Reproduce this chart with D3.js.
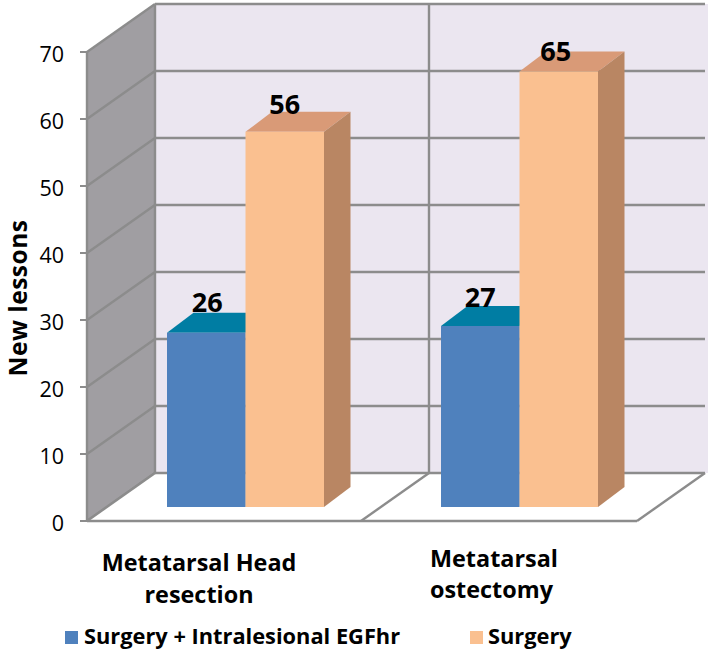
<!DOCTYPE html>
<html><head><meta charset="utf-8">
<script src="https://cdn.jsdelivr.net/npm/d3@7"></script>
<style>html,body{margin:0;padding:0;background:#fff}svg{display:block}text{font-family:"Open Sans","Noto Sans",sans-serif;fill:#000}</style>
</head><body><svg id="c" width="708" height="652"></svg>
<script>
const categories = ["Metatarsal Head resection", "Metatarsal ostectomy"];
const seriesNames = ["Surgery + Intralesional EGFhr", "Surgery"];
const combinedValues = [26, 27];
const surgeryValues = [56, 65];
const yTicks = [0, 10, 20, 30, 40, 50, 60, 70];
const yTitle = "New lessons";

const svg = d3.select("#c");
const W = {dx: 68, dy: -48};              // wall depth offset
const y = d3.scaleLinear().domain([0, 70]).range([521, 52]);
const x = d3.scaleBand().domain(categories).range([87, 635]);
const poly = (pts, fill) => svg.append("polygon").attr("points", pts.map(p => p.join(",")).join(" ")).attr("fill", fill);
const line = (a, b, w = 2.4) => svg.append("line").attr("x1", a[0]).attr("y1", a[1]).attr("x2", b[0]).attr("y2", b[1]).attr("stroke", "#8c8c8c").attr("stroke-width", w);

const x0 = x.range()[0], x1 = x.range()[1] + 2;
// back wall + side wall
poly([[x0 + W.dx, y(70) + W.dy], [708, y(70) + W.dy], [708, y(0) + W.dy], [x0 + W.dx, y(0) + W.dy]], "#ebe6f0");
poly([[x0, y(70)], [x0 + W.dx, y(70) + W.dy], [x0 + W.dx, y(0) + W.dy], [x0, y(0)]], "#a09ea2");
// grid
yTicks.forEach(t => {
  line([x0 - 7, y(t)], [x0, y(t)], 2);
  if (t > 0) line([x0 + W.dx, y(t) + W.dy], [x1 + W.dx, y(t) + W.dy]);
  line([x0, y(t)], [x0 + W.dx, y(t) + W.dy]);
});
line([x0, y(0)], [x0, y(70)]);
line([x0 + W.dx, y(70) + W.dy], [x0 + W.dx, y(0) + W.dy]);
line([x0 + W.dx + x.step(), y(70) + W.dy], [x0 + W.dx + x.step(), y(0) + W.dy]);
// floor
poly([[x0, y(0)], [x1, y(0)], [x1 + W.dx, y(0) + W.dy], [x0 + W.dx, y(0) + W.dy]], "#fff");
line([x0, y(0)], [x1, y(0)]);
line([x1, y(0)], [x1 + W.dx, y(0) + W.dy]);
line([x0 + W.dx, y(0) + W.dy], [x1 + W.dx, y(0) + W.dy]);
line([x0 + x.step(), y(0)], [x0 + W.dx + x.step(), y(0) + W.dy]);
line([x0, y(0)], [x0 + W.dx, y(0) + W.dy]);

// y tick labels
svg.append("g").selectAll("text").data(yTicks).join("text")
  .attr("x", 64).attr("y", d => y(d) + 2.5).attr("dy", "0.36em").attr("text-anchor", "end")
  .attr("font-size", 21.5).attr("fill", "#222").text(d => d);

// bars
const barW = 78.5, barInset = 80, baseLift = 14, D = {dx: 26.5, dy: -20};
const series = [
  {values: combinedValues, i: 0, front: "#4f81bd", top: "#007da3", side: "#3f6797"},
  {values: surgeryValues, i: 1, front: "#fac090", top: "#d99a77", side: "#b98663"}
];
const labelNudge = [[[1, -21], [0, -19]], [[0, -18], [-3, -11]]];
series.forEach(s => {
  s.values.forEach((v, k) => {
    const bx = x(categories[k]) + barInset + s.i * barW;
    const top = y(v) - baseLift, base = y(0) - baseLift;
    poly([[bx, top], [bx + D.dx, top + D.dy], [bx + barW + D.dx, top + D.dy], [bx + barW, top]], s.top);
    poly([[bx + barW, top], [bx + barW + D.dx, top + D.dy], [bx + barW + D.dx, base + D.dy], [bx + barW, base]], s.side);
    poly([[bx, top], [bx + barW, top], [bx + barW, base], [bx, base]], s.front);
  });
});
series.forEach(s => s.values.forEach((v, k) => {
  const bx = x(categories[k]) + barInset + s.i * barW;
  svg.append("text").attr("x", bx + barW / 2 + labelNudge[s.i][k][0]).attr("y", y(v) - baseLift + labelNudge[s.i][k][1])
    .attr("text-anchor", "middle").attr("font-size", 27).attr("font-weight", 700).text(v);
}));

// category labels
const catLabel = (lines, xx, anchor, ys) => lines.forEach((l, i) =>
  svg.append("text").attr("x", xx).attr("y", ys[i]).attr("text-anchor", anchor)
    .attr("font-size", 23.4).attr("font-weight", 700).text(l));
catLabel(["Metatarsal Head", "resection"], 199, "middle", [571, 603]);
catLabel(["Metatarsal", "ostectomy"], 430, "start", [567, 598]);

// y title
svg.append("text").attr("transform", "translate(26.5,298) rotate(-90)").attr("text-anchor", "middle")
  .attr("font-size", 24.5).attr("letter-spacing", 0.5).attr("font-weight", 700).text(yTitle);

// legend
const legX = [65, 470];
seriesNames.forEach((n, i) => {
  svg.append("rect").attr("x", legX[i]).attr("y", 631).attr("width", 13).attr("height", 13).attr("fill", series[i].front);
  svg.append("text").attr("x", legX[i] + (i ? 18 : 19)).attr("y", 644).attr("font-size", 21.8).attr("font-weight", 700).text(n);
});
</script></body></html>
